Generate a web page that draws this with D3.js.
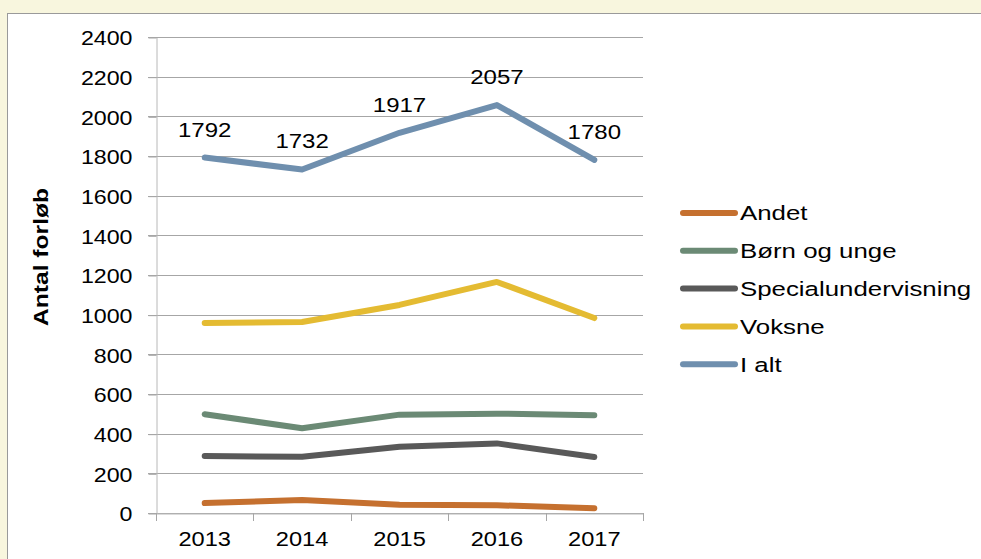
<!DOCTYPE html>
<html>
<head>
<meta charset="utf-8">
<script src="https://cdn.jsdelivr.net/npm/d3@7"></script>
<style>
  body { margin: 0; background: #f8f6de; }
  svg { display: block; font-family: "Liberation Sans", Arial, sans-serif; }
</style>
</head>
<body>
<svg id="chart" width="981" height="559"></svg>
<script>
// data
const years = ["2013", "2014", "2015", "2016", "2017"];
const andet = [50, 66, 42, 39, 24];
const boernUnge = [498, 427, 496, 501, 493];
const special = [287, 284, 334, 351, 282];
const voksne = [958, 963, 1049, 1165, 983];
const iAlt = [1792, 1732, 1917, 2057, 1780];
const yTicks = [0, 200, 400, 600, 800, 1000, 1200, 1400, 1600, 1800, 2000, 2200, 2400];

const series = [
  { name: "Andet", values: andet, color: "#c5702f" },
  { name: "Børn og unge", values: boernUnge, color: "#6b8a75" },
  { name: "Specialundervisning", values: special, color: "#595959" },
  { name: "Voksne", values: voksne, color: "#e4bb32" },
  { name: "I alt", values: iAlt, color: "#6f8fae", labels: true }
];

const FONT = 20;
const STRETCH = 1.18;

// the original text renders wider than Liberation Sans, stretch it a bit
function widen(sel, k) {
  sel.each(function () {
    const w = this.getComputedTextLength();
    d3.select(this)
      .attr("textLength", w * k)
      .attr("lengthAdjust", "spacingAndGlyphs");
  });
}

const svg = d3.select("#chart");

// white panel
svg.append("rect")
  .attr("x", 7.5).attr("y", 13.5)
  .attr("width", 990).attr("height", 560)
  .attr("fill", "white")
  .attr("stroke", "#9a9a9a");

const x = d3.scaleBand().domain(years).range([156, 643]);
const y = d3.scaleLinear().domain([0, 2400]).range([513, 37]);

// gridlines
svg.append("g")
  .selectAll("line")
  .data(yTicks)
  .join("line")
  .attr("x1", 148).attr("x2", 643)
  .attr("y1", d => Math.round(y(d)) + 0.5)
  .attr("y2", d => Math.round(y(d)) + 0.5)
  .attr("stroke", "#a6a6a6");

// y axis
const yAxis = svg.append("g")
  .attr("transform", "translate(156.5,0.5)")
  .call(d3.axisLeft(y).tickValues(yTicks).tickFormat(d3.format("d")).tickSize(8).tickSizeOuter(0));
yAxis.select(".domain").attr("stroke", "#b8b8b8");
yAxis.selectAll(".tick line").attr("stroke", "#a6a6a6");
yAxis.selectAll("text")
  .attr("font-size", FONT).attr("fill", "#000")
  .attr("x", -24).attr("dy", "0.36em")
  .attr("font-family", "Liberation Sans, Arial, sans-serif")
  .call(widen, 1.16);

// x axis
const xAxis = svg.append("g")
  .attr("transform", "translate(0,513.5)")
  .call(d3.axisBottom(x).tickSize(0).tickSizeOuter(0));
xAxis.select(".domain").attr("stroke", "#b8b8b8");
xAxis.selectAll("text")
  .attr("font-size", FONT).attr("fill", "#000")
  .attr("y", 32.5).attr("dy", 0)
  .attr("font-family", "Liberation Sans, Arial, sans-serif")
  .call(widen, STRETCH);

// x ticks on band edges
svg.append("g")
  .selectAll("line")
  .data(years.concat(["end"]))
  .join("line")
  .attr("x1", (d, i) => Math.round(i < years.length ? x(d) : x.range()[1]) + 0.5)
  .attr("x2", (d, i) => Math.round(i < years.length ? x(d) : x.range()[1]) + 0.5)
  .attr("y1", 513).attr("y2", 521)
  .attr("stroke", "#a6a6a6");

// axis title
svg.append("text")
  .attr("transform", "translate(48,257) rotate(-90)")
  .attr("text-anchor", "middle")
  .attr("font-size", 20.5).attr("font-weight", "bold")
  .text("Antal forløb")
  .call(widen, 1.2);

// lines
const line = d3.line()
  .x((d, i) => x(years[i]) + x.bandwidth() / 2)
  .y(d => y(d));

svg.append("g")
  .selectAll("path")
  .data(series)
  .join("path")
  .attr("d", d => line(d.values))
  .attr("fill", "none")
  .attr("stroke", d => d.color)
  .attr("stroke-width", 6)
  .attr("stroke-linecap", "round")
  .attr("stroke-linejoin", "round");

// data labels for total
const labelled = series.filter(d => d.labels)[0];
svg.append("g")
  .selectAll("text")
  .data(labelled.values)
  .join("text")
  .attr("x", (d, i) => x(years[i]) + x.bandwidth() / 2)
  .attr("y", d => y(d) - 21)
  .attr("text-anchor", "middle")
  .attr("font-size", FONT)
  .text(d => d)
  .call(widen, 1.2);

// legend
const legend = svg.append("g")
  .selectAll("g")
  .data(series)
  .join("g")
  .attr("transform", (d, i) => `translate(683,${213 + i * 37.8})`);

legend.append("line")
  .attr("x1", 0).attr("x2", 52)
  .attr("stroke", d => d.color)
  .attr("stroke-width", 6)
  .attr("stroke-linecap", "round");

legend.append("text")
  .attr("x", 57).attr("dy", "0.36em")
  .attr("font-size", 20.5)
  .text(d => d.name)
  .call(widen, 1.26);
</script>
</body>
</html>
